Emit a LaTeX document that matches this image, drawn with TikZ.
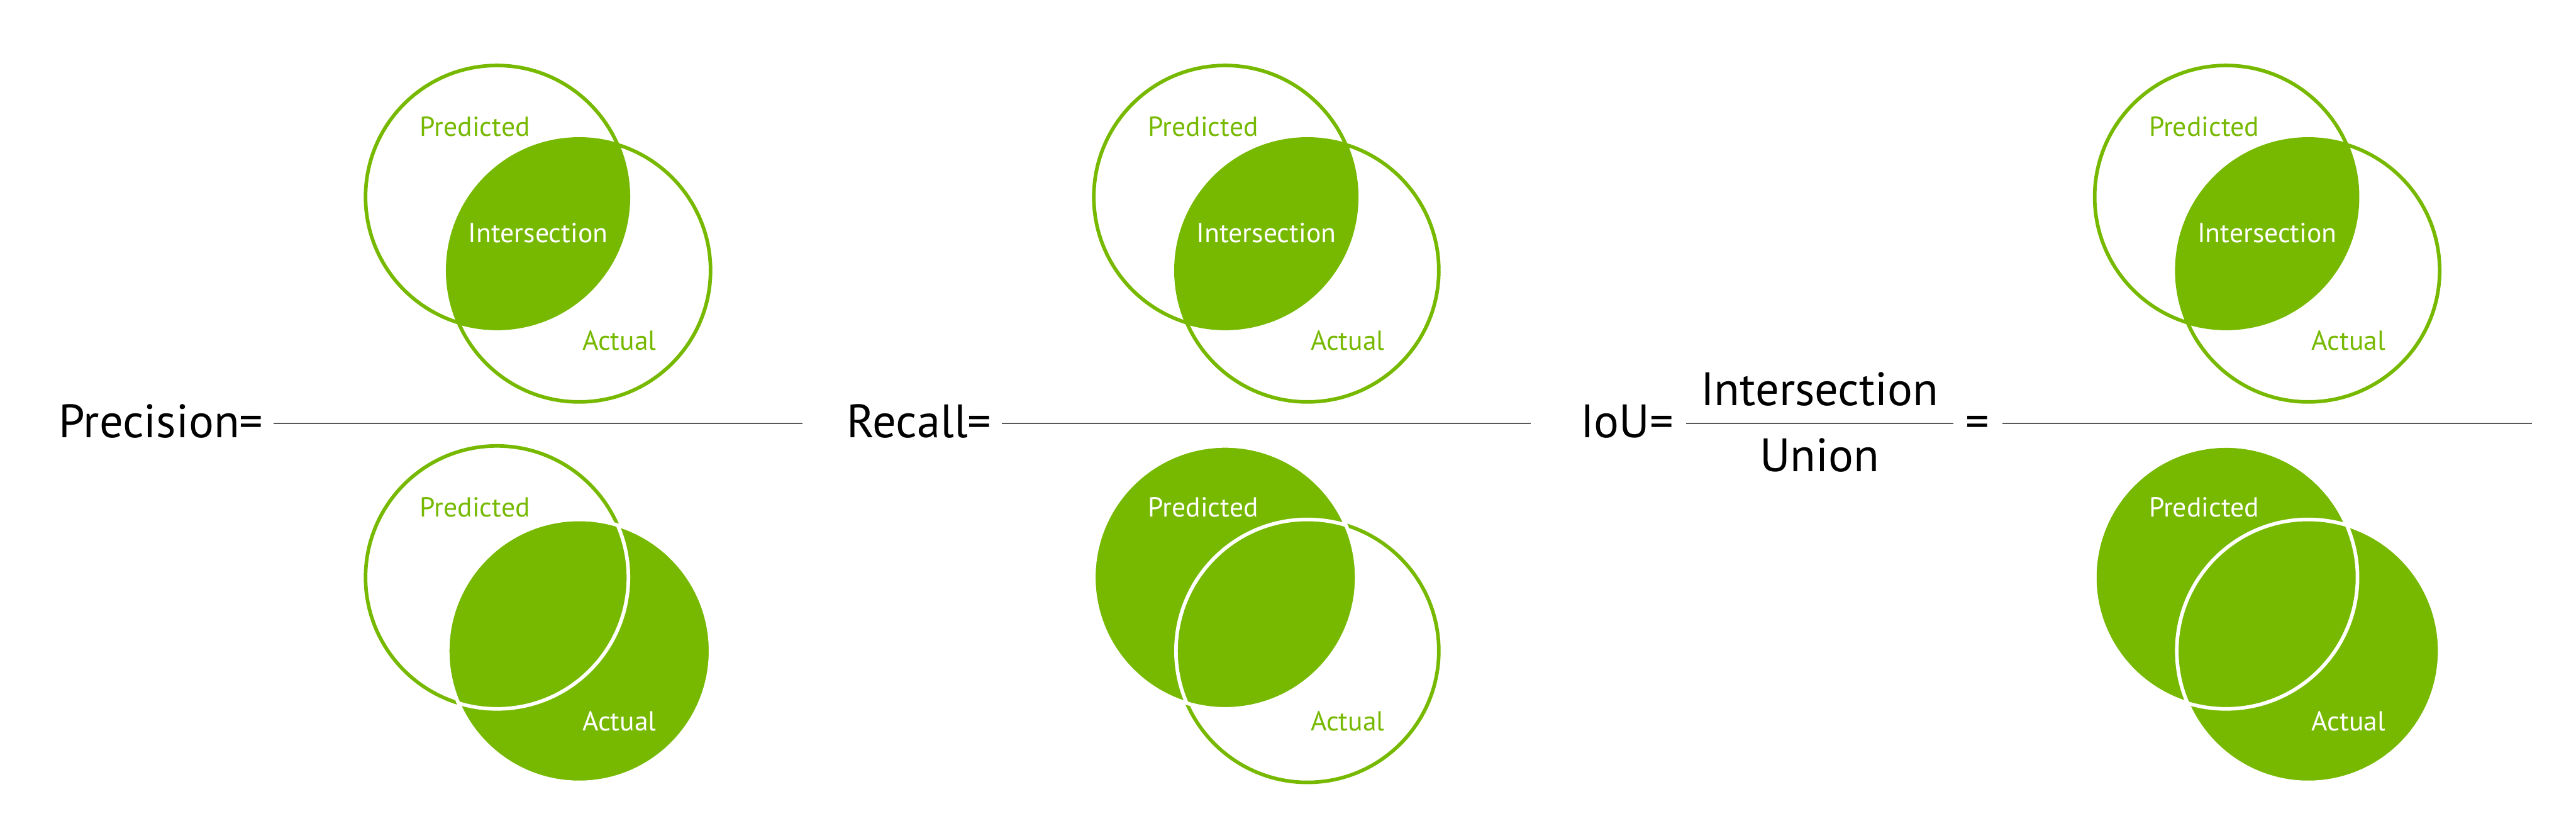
\documentclass[tikz,border=0pt]{standalone}
\usepackage{fontspec}
\setmainfont{PT Sans}
\definecolor{nvgreen}{HTML}{76B900}

\begin{document}
\begin{tikzpicture}[
    ringline/.style={
        draw=nvgreen,
        line width=1.56pt
    },
    innerline/.style={
        draw=white,
        line width=1.56pt
    },
    lensfill/.style={
        fill=nvgreen
    },
    solidset/.style={
        fill=nvgreen,
        draw=white,
        line width=1.56pt
    },
    setname/.style={
        font=\fontsize{11.9}{14}\selectfont,
        anchor=base,
        inner sep=0pt
    },
    greenname/.style={
        setname,
        text=nvgreen
    },
    whitename/.style={
        setname,
        text=white
    },
    rationame/.style={
        font=\fontsize{20.3}{24}\selectfont,
        anchor=base east,
        inner sep=0pt
    },
    fracbar/.style={
        draw=black!65,
        line width=0.55pt
    }
]

\useasboundingbox (0,0) rectangle (39.2,12.745);

% Radius and offsets of the two sets
\def\R{2}
\def\DX{0.625}
\def\DY{0.559}

% Horizontal positions of the three panels
\def\PrecX{8.1875}
\def\RecX{19.27}
\def\IoUX{34.5}

% Vertical positions of numerator, bar and denominator
\def\TopY{9.19}
\def\BotY{3.4025}
\def\BarY{6.3075}
\def\TextY{6.085}

% Label offsets from the panel centre
\def\PLX{-0.96}
\def\PLY{1.484}
\def\ALX{1.2375}
\def\ALY{-1.769}
\def\ILY{-0.135}

% ==================================================
% Precision
% ==================================================

\coordinate (precTopP) at (\PrecX-\DX,\TopY+\DY);
\coordinate (precTopA) at (\PrecX+\DX,\TopY-\DY);
\coordinate (precBotP) at (\PrecX-\DX,\BotY+\DY);
\coordinate (precBotA) at (\PrecX+\DX,\BotY-\DY);

% Numerator: intersection only
\begin{scope}
    \clip (precTopP) circle (\R);
    \fill[lensfill] (precTopA) circle (\R);
\end{scope}
\draw[ringline] (precTopP) circle (\R);
\draw[ringline] (precTopA) circle (\R);

\node[greenname] (precTopPred) at (\PrecX+\PLX,\TopY+\PLY) {Predicted};
\node[whitename] (precTopInter) at (\PrecX,\TopY+\ILY) {Intersection};
\node[greenname] (precTopAct) at (\PrecX+\ALX,\TopY+\ALY) {Actual};

% Denominator: actual set
\draw[ringline] (precBotP) circle (\R);
\filldraw[solidset] (precBotA) circle (\R);
\begin{scope}
    \clip (precBotA) circle (\R);
    \draw[innerline] (precBotP) circle (\R);
\end{scope}

\node[greenname] (precBotPred) at (\PrecX+\PLX,\BotY+\PLY) {Predicted};
\node[whitename] (precBotAct) at (\PrecX+\ALX,\BotY+\ALY) {Actual};

% Fraction bar
\node[rationame] (precName) at (\PrecX-4.175,\TextY) {Precision=};
\coordinate (precBarL) at (\PrecX-4.025,\BarY);
\coordinate (precBarR) at (\PrecX+4.025,\BarY);
\draw[fracbar] (precBarL) -- (precBarR);

% ==================================================
% Recall
% ==================================================

\coordinate (recTopP) at (\RecX-\DX,\TopY+\DY);
\coordinate (recTopA) at (\RecX+\DX,\TopY-\DY);
\coordinate (recBotP) at (\RecX-\DX,\BotY+\DY);
\coordinate (recBotA) at (\RecX+\DX,\BotY-\DY);

% Numerator: intersection only
\begin{scope}
    \clip (recTopP) circle (\R);
    \fill[lensfill] (recTopA) circle (\R);
\end{scope}
\draw[ringline] (recTopP) circle (\R);
\draw[ringline] (recTopA) circle (\R);

\node[greenname] (recTopPred) at (\RecX+\PLX,\TopY+\PLY) {Predicted};
\node[whitename] (recTopInter) at (\RecX,\TopY+\ILY) {Intersection};
\node[greenname] (recTopAct) at (\RecX+\ALX,\TopY+\ALY) {Actual};

% Denominator: predicted set
\draw[ringline] (recBotA) circle (\R);
\filldraw[solidset] (recBotP) circle (\R);
\begin{scope}
    \clip (recBotP) circle (\R);
    \draw[innerline] (recBotA) circle (\R);
\end{scope}

\node[whitename] (recBotPred) at (\RecX+\PLX,\BotY+\PLY) {Predicted};
\node[greenname] (recBotAct) at (\RecX+\ALX,\BotY+\ALY) {Actual};

% Fraction bar
\node[rationame] (recName) at (\RecX-4.175,\TextY) {Recall=};
\coordinate (recBarL) at (\RecX-4.025,\BarY);
\coordinate (recBarR) at (\RecX+4.025,\BarY);
\draw[fracbar] (recBarL) -- (recBarR);

% ==================================================
% IoU
% ==================================================

\coordinate (iouTopP) at (\IoUX-\DX,\TopY+\DY);
\coordinate (iouTopA) at (\IoUX+\DX,\TopY-\DY);
\coordinate (iouBotP) at (\IoUX-\DX,\BotY+\DY);
\coordinate (iouBotA) at (\IoUX+\DX,\BotY-\DY);

% Numerator: intersection only
\begin{scope}
    \clip (iouTopP) circle (\R);
    \fill[lensfill] (iouTopA) circle (\R);
\end{scope}
\draw[ringline] (iouTopP) circle (\R);
\draw[ringline] (iouTopA) circle (\R);

\node[greenname] (iouTopPred) at (\IoUX+\PLX,\TopY+\PLY) {Predicted};
\node[whitename] (iouTopInter) at (\IoUX,\TopY+\ILY) {Intersection};
\node[greenname] (iouTopAct) at (\IoUX+\ALX,\TopY+\ALY) {Actual};

% Denominator: union of both sets
\filldraw[solidset] (iouBotP) circle (\R);
\filldraw[solidset] (iouBotA) circle (\R);
\draw[innerline] (iouBotP) circle (\R);

\node[whitename] (iouBotPred) at (\IoUX+\PLX,\BotY+\PLY) {Predicted};
\node[whitename] (iouBotAct) at (\IoUX+\ALX,\BotY+\ALY) {Actual};

% Word fraction
\node[rationame] (iouName) at (25.475,\TextY) {IoU=};
\coordinate (wordBarL) at (25.66,\BarY);
\coordinate (wordBarR) at (29.725,\BarY);
\draw[fracbar] (wordBarL) -- (wordBarR);
\node[rationame, anchor=base] (wordNum) at (27.69,6.575) {Intersection};
\node[rationame, anchor=base] (wordDen) at (27.69,5.575) {Union};

% Fraction bar
\node[rationame] (iouEq) at (\IoUX-4.225,\TextY) {=};
\coordinate (iouBarL) at (\IoUX-4.025,\BarY);
\coordinate (iouBarR) at (\IoUX+4.025,\BarY);
\draw[fracbar] (iouBarL) -- (iouBarR);

\end{tikzpicture}
\end{document}
